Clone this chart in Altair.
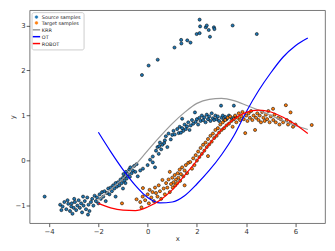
import altair as alt
import pandas as pd

# ---------------- data ----------------
src_x = [-4.18, -3.55, -3.5, -3.45, -3.38, -3.3, -3.25, -3.22, -3.15, -3.1, -3.08, -3.05, -3.0, -2.98,
         -2.95, -2.9, -2.85, -2.8, -2.75, -2.7, -2.66, -2.62, -2.6, -2.55, -2.5, -2.45, -2.42, -2.4,
         -2.36, -2.3, -2.25, -2.2, -2.15, -2.1, -2.05, -2.0, -1.95, -1.9, -1.85, -1.8, -1.75, -1.7,
         -1.65, -1.6, -1.55, -1.5, -1.45, -1.4, -1.35, -1.3, -1.3, -1.25, -1.2, -1.15, -1.1, -1.05,
         -1.0, -1.0, -0.98, -0.95, -0.9, -0.9, -0.88, -0.85, -0.8, -0.75, -0.72, -0.7, -0.65, -0.6,
         -0.55, -0.5, -0.45, -0.4, -0.3, -0.19, 0.0, 0.1, 0.21, 0.21, 0.3, 0.34, 0.4, 0.45, 0.47,
         0.5, 0.55, 0.6, 0.67, 0.7, 0.74, 0.8, 0.85, 0.94, 1.0, 1.05, 1.1, 1.2, 1.26, 1.3, 1.35,
         1.4, 1.4, 1.45, 1.5, 1.55, 1.6, 1.65, 1.7, 1.75, 1.8, 1.85, 1.92, 1.95, 2.0, 2.05, 2.1,
         2.15, 2.2, 2.25, 2.3, 2.35, 2.4, 2.45, 2.5, 2.55, 2.6, 2.65, 2.7, 2.75, 2.8, 2.85, 2.9,
         2.98, 3.0, 3.05, 3.1, 3.15, 3.2, 3.3, 3.4, 3.5, 3.55,
         # outlying group
         -0.23, 0.04, 0.41, 1.09, 1.37, 1.36, 1.61, 1.74, 1.99, 2.11, 2.13, 2.11, 2.36, 2.40,
         2.48, 2.69, 2.71, 2.53, 3.45, 4.43]
src_y = [-0.80, -0.98, -1.10, -1.02, -0.92, -1.08, -0.88, -0.96, -1.12, -1.02, -0.95, -1.18, -1.05, -0.85,
         -0.92, -1.10, -1.00, -0.88, -1.05, -0.95, -1.15, -0.80, -1.00, -0.90, -1.08, -0.82, -1.20, -0.98,
         -1.12, -0.92, -0.85, -1.00, -0.78, -0.90, -0.82, -0.95, -0.75, -0.85, -0.70, -0.80, -0.68, -0.90,
         -0.72, -0.62, -0.75, -0.60, -0.68, -0.55, -0.62, -0.50, -0.80, -0.58, -0.48, -0.55, -0.42, -0.50,
         -0.38, -0.62, -0.30, -0.45, -0.35, -0.50, -0.25, -0.40, -0.30, -0.20, -0.36, -0.15, -0.28, -0.22,
         -0.12, -0.25, -0.08, -0.35, -0.22, -0.18, -0.10, 0.02, -0.04, 0.09, -0.15, 0.22, 0.30, 0.15, 0.32,
         0.40, 0.25, 0.35, 0.39, 0.45, 0.54, 0.30, 0.60, 0.47, 0.57, 0.66, 0.58, 0.70, 0.61, 0.75, 0.62,
         0.72, 0.93, 0.66, 0.80, 0.70, 0.76, 0.85, 0.68, 0.78, 0.90, 0.82, 1.07, 0.86, 0.92, 0.80, 0.95,
         0.88, 1.00, 0.90, 0.96, 0.85, 1.02, 0.92, 0.98, 0.88, 1.05, 0.94, 0.90, 1.00, 0.92, 0.98, 0.88,
         1.22, 0.95, 1.00, 0.90, 0.97, 0.92, 1.00, 0.95, 1.22, 0.98,
         1.90, 2.11, 2.24, 2.51, 2.60, 2.68, 2.67, 2.62, 2.81, 2.83, 2.98, 3.13, 2.96, 3.00,
         2.90, 2.96, 2.92, 2.75, 3.00, 2.81]

tgt_x = [-1.04, -0.45, -0.3, -0.25, -0.2, -0.19, -0.1, 0.0, 0.05, 0.08, 0.15, 0.2, 0.25, 0.3, 0.34,
         0.4, 0.45, 0.5, 0.55, 0.6, 0.65, 0.7, 0.75, 0.8, 0.85, 0.9, 0.9, 0.95, 1.0, 1.02, 1.05, 1.1,
         1.12, 1.15, 1.2, 1.22, 1.25, 1.3, 1.32, 1.35, 1.4, 1.45, 1.5, 1.5, 1.55, 1.6, 1.65, 1.73, 1.8,
         1.85, 1.9, 1.95, 2.0, 2.05, 2.1, 2.15, 2.2, 2.25, 2.3, 2.35, 2.4, 2.45, 2.45, 2.5, 2.55, 2.6,
         2.65, 2.7, 2.75, 2.8, 2.85, 2.9, 2.95, 3.0, 3.05, 3.1, 3.15, 3.2, 3.25, 3.3, 3.35, 3.4, 3.45,
         3.5, 3.55, 3.6, 3.65, 3.7, 3.75, 3.8, 3.85, 3.9, 3.96, 4.0, 4.05, 4.1, 4.15, 4.2, 4.25, 4.3,
         4.36, 4.4, 4.45, 4.5, 4.55, 4.6, 4.65, 4.7, 4.75, 4.8, 4.85, 4.9, 4.95, 5.0, 5.09, 5.1, 5.15,
         5.2, 5.3, 5.35, 5.4, 5.5, 5.61, 5.65, 5.7, 5.8, 5.8, 5.9, 6.0, 6.66]
tgt_y = [-0.95, -0.86, -0.92, -1.04, -0.80, -0.61, -0.88, -0.75, -0.95, -0.65, -0.82, -0.70, -0.90, -0.60, -0.72,
         -0.80, -0.55, -0.68, -0.85, -0.43, -0.62, -0.75, -0.50, -0.60, -0.42, -0.70, -0.25, -0.52, -0.38, -0.60, -0.48, -0.32,
         -0.55, -0.42, -0.50, -0.28, -0.38, -0.20, -0.45, -0.30, -0.15, -0.35, -0.22, -0.55, -0.10, -0.28, -0.05, -0.03, -0.18,
         0.05, -0.10, 0.12, 0.00, 0.20, 0.08, 0.28, 0.15, 0.35, 0.22, 0.40, 0.30, 0.48, 0.10, 0.36, 0.55, 0.42,
         0.60, 0.50, 0.68, 0.55, 0.72, 0.62, 0.80, 0.68, 0.85, 0.72, 0.90, 0.78, 0.95, 0.82, 0.98, 0.88, 0.75,
         0.92, 1.00, 0.85, 0.95, 1.05, 0.90, 0.98, 1.08, 0.92, 0.61, 1.00, 0.88, 1.05, 0.95, 1.10, 0.90, 1.00,
         0.68, 0.95, 1.05, 0.90, 1.00, 0.85, 1.08, 0.95, 0.88, 1.02, 0.92, 1.10, 0.85, 0.98, 1.15, 0.90, 1.02,
         0.85, 0.95, 0.80, 0.92, 0.85, 1.23, 0.90, 0.80, 0.85, 1.07, 0.75, 0.80, 0.79]

curve_x = [-2.0, -1.5, -1.0, -0.5, 0.0, 0.5, 1.0, 1.5, 2.0, 2.5, 3.0, 3.5, 4.0, 4.5, 5.0, 5.5, 6.0, 6.5]
krr_y = [-0.88, -0.64, -0.40, -0.10, 0.22, 0.53, 0.82, 1.07, 1.27, 1.36, 1.38, 1.33, 1.23, 1.12, 1.00, 0.89, 0.78, 0.69]
ot_y = [0.63, 0.20, -0.20, -0.55, -0.82, -0.94, -0.92, -0.78, -0.52, -0.22, 0.13, 0.55, 1.08, 1.55, 1.95, 2.30, 2.55, 2.72]
robot_y = [-0.95, -1.05, -1.10, -1.11, -1.03, -0.88, -0.65, -0.33, 0.00, 0.36, 0.68, 0.92, 1.07, 1.12, 1.08, 0.96, 0.80, 0.60]

series_names = ["Source samples", "Target samples", "KRR", "OT", "ROBOT"]
series_colors = ["#1f77b4", "#ff7f0e", "#999999", "#0000ff", "#ff0000"]
x_ticks = [-4, -2, 0, 2, 4, 6]
y_ticks = [-1, 0, 1, 2, 3]

# ---------------- tables ----------------
pts = pd.concat([
    pd.DataFrame({"x": src_x, "y": src_y, "series": series_names[0]}),
    pd.DataFrame({"x": tgt_x, "y": tgt_y, "series": series_names[1]}),
], ignore_index=True)

lines = pd.concat([
    pd.DataFrame({"x": curve_x, "y": krr_y, "series": "KRR"}),
    pd.DataFrame({"x": curve_x, "y": ot_y, "series": "OT"}),
    pd.DataFrame({"x": curve_x, "y": robot_y, "series": "ROBOT"}),
], ignore_index=True)

is_line = "indexof(['KRR','OT','ROBOT'], datum.value) >= 0"
legend = alt.Legend(
    title=None, orient="top-left", offset=2,
    fillColor="white", strokeColor="#cccccc", padding=2.5, cornerRadius=2,
    labelFont="DejaVu Sans", labelFontSize=5, labelColor="#222", labelOffset=3,
    rowPadding=0,
    symbolSize={"expr": f"{is_line} ? 56 : 8"},
    symbolType={"expr": f"{is_line} ? 'stroke' : 'circle'"},
    symbolStrokeWidth={"expr": f"{is_line} ? 1.5 : 0.5"},
    symbolStrokeColor={"expr": f"{is_line} ? scale('color', datum.value) : '#000000'"},
    symbolFillColor={"expr": f"{is_line} ? 'transparent' : scale('color', datum.value)"},
    symbolOpacity=1,
)

color = alt.Color("series:N", scale=alt.Scale(domain=series_names, range=series_colors), legend=legend)
xenc = alt.X("x:Q", title="x", scale=alt.Scale(domain=[-4.79, 7.2], nice=False, zero=False),
             axis=alt.Axis(values=x_ticks, format="d"))
yenc = alt.Y("y:Q", title="y", scale=alt.Scale(domain=[-1.39, 3.34], nice=False, zero=False),
             axis=alt.Axis(values=y_ticks, format="d"))

points = alt.Chart(pts).mark_point(filled=True, size=10, stroke="black", strokeWidth=0.55, opacity=1).encode(
    x=xenc, y=yenc, color=color, stroke=alt.value("black"))

curves = alt.Chart(lines).mark_line(strokeWidth=1.2, interpolate="monotone").encode(
    x=xenc, y=yenc, color=color, detail="series:N")

chart = alt.layer(points, curves).properties(
    width=301, height=217,
    padding={"left": 0, "top": 0, "right": 2, "bottom": 0},
).configure_axis(
    domain=False, grid=False, tickSize=3.5, tickColor="#333", tickWidth=0.8,
    labelFont="DejaVu Sans", labelFontSize=7, labelColor="#333", labelPadding=1,
    titleFont="DejaVu Sans", titleFontSize=7, titleFontWeight="normal", titleColor="#333", titlePadding=0,
).configure_view(stroke="#555", strokeWidth=0.8)

chart.save("out.html", embed_options={"renderer": "svg", "actions": False})
